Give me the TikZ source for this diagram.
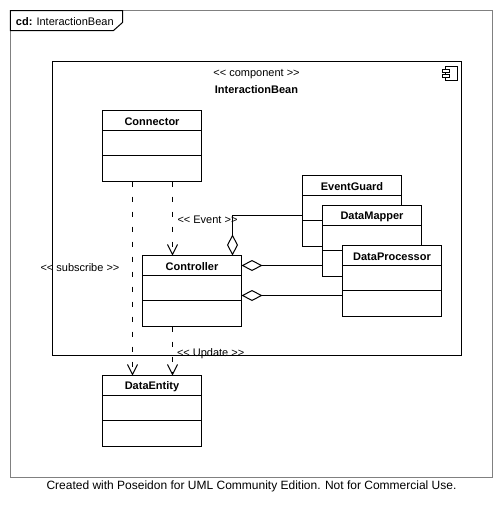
\documentclass[tikz,border=0pt]{standalone}
\usepackage{fontspec}
\setmainfont{Liberation Sans}
\usetikzlibrary{arrows.meta}
\begin{document}
\begin{tikzpicture}[x=1pt,y=-1pt,line width=1pt,font=\fontsize{11}{13}\selectfont,
  classbox/.style={draw,fill=white,minimum width=99pt,minimum height=71pt,inner sep=0pt,outer sep=0pt},
  classname/.style={font=\fontsize{11}{13}\selectfont\bfseries,inner sep=0pt},
  lbl/.style={inner sep=0pt},
  depend/.style={dash pattern=on 5pt off 10pt,-{Straight Barb[length=10pt,width=10pt,line width=1pt]}},
  aggr/.style={{Diamond[open,length=21pt,width=11pt,line width=1pt]}-}]
\useasboundingbox (-0.5,-0.5) rectangle (501.5,508.5);
\fill[white] (-0.5,-0.5) rectangle (501.5,508.5);
% diagram frame and its tab
\draw[gray] (10,10) rectangle (492,477);
\draw (10,10) -- (122,10) -- (122,22) -- (113,30) -- (10,30) -- cycle;
\node[lbl,anchor=west] (frametitle) at (15,21) {\textbf{cd:} InteractionBean};
\node[lbl,font=\fontsize{12}{14}\selectfont] (footer) at (251,485.5) {Created with Poseidon for UML Community Edition. Not for Commercial Use.};
% labels on the connectors
\node[lbl,anchor=west] (updatelbl) at (176,353) {<{}< Update >{}>};
% component
\draw (52,61) rectangle (461,355);
\node[lbl] (stereotype) at (256,73.5) {<{}< component >{}>};
\node[classname] (compname) at (256,89) {InteractionBean};
% component icon
\draw[line width=0.8pt] (445,66) rectangle (457,80);
\draw[line width=0.8pt,fill=white] (442,69) rectangle (449,72);
\draw[line width=0.8pt,fill=white] (442,74) rectangle (449,77);
% classes with their compartments
\foreach \name/\x/\y in {Connector/102/110,Controller/142/255,EventGuard/302/175,DataMapper/322/205,DataProcessor/342/245,DataEntity/102/375}{
  \node[classbox,anchor=north west] (\name) at (\x,\y) {};
  \node[classname] (\name-title) at (\x+49.5,\y+11) {\name};
  \draw (\x,\y+20) -- (\x+99,\y+20);
  \draw (\x,\y+45) -- (\x+99,\y+45);
}
% dependencies
\draw[depend] ([xshift=20.5pt]Connector.south) -- ([xshift=-19.5pt]Controller.north);
\draw[depend] ([xshift=-19.5pt]Connector.south) -- ([xshift=-19.5pt]DataEntity.north);
\draw[depend] ([xshift=-19.5pt]Controller.south) -- ([xshift=20.5pt]DataEntity.north);
\node[lbl,anchor=west] (eventlbl) at (176.5,219) {<{}< Event >{}>};
\node[lbl,anchor=west] (subscribelbl) at (39.5,267) {<{}< subscribe >{}>};
% aggregations
\draw[aggr] ([xshift=40.5pt]Controller.north) |- ([yshift=-4.5pt]EventGuard.west);
\draw[aggr] ([yshift=25.5pt]Controller.east) -- ([yshift=25.5pt]Controller.east -| DataMapper.west);
\draw[aggr] ([yshift=-4.5pt]Controller.east) -- ([yshift=-4.5pt]Controller.east -| DataProcessor.west);
\end{tikzpicture}
\end{document}
